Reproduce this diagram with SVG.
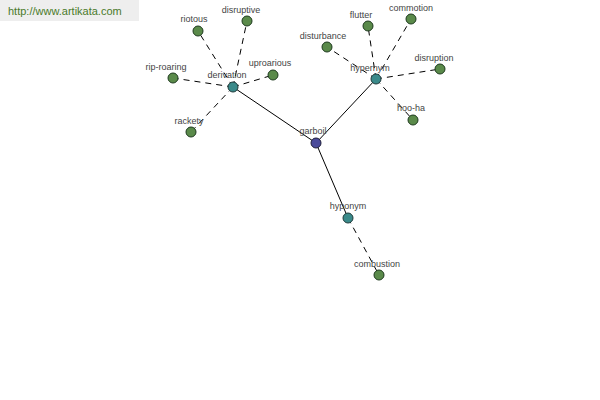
<svg xmlns="http://www.w3.org/2000/svg" width="600" height="400" viewBox="0 0 600 400">
<style>
.t{font-family:"Liberation Sans",Arial,sans-serif;font-size:9px;fill:#444;text-anchor:middle}
.l{fill:#5a8a4a;stroke:#1e3a1e;stroke-width:1}
.m{fill:#3a8a8a;stroke:#1e3a3a;stroke-width:1}
.d{stroke:#000;stroke-width:1;stroke-dasharray:6,5;fill:none}
.s{stroke:#000;stroke-width:1;fill:none}
</style>
<rect x="0" y="0" width="139" height="21" fill="#eeeeee"/>
<text x="8" y="15" style="font-family:'Liberation Sans',Arial,sans-serif;font-size:11px;fill:#4a7a2a">http://www.artikata.com</text>
<g id="connectors">
<line class="s" x1="316" y1="143" x2="233" y2="87"/>
<line class="s" x1="316" y1="143" x2="376" y2="79"/>
<line class="s" x1="316" y1="143" x2="348" y2="218"/>
<line class="d" x1="233" y1="87" x2="198" y2="31"/>
<line class="d" x1="233" y1="87" x2="247" y2="21"/>
<line class="d" x1="233" y1="87" x2="273" y2="75"/>
<line class="d" x1="233" y1="87" x2="173" y2="78"/>
<line class="d" x1="233" y1="87" x2="191" y2="132"/>
<line class="d" x1="376" y1="79" x2="327" y2="47"/>
<line class="d" x1="376" y1="79" x2="368" y2="26"/>
<line class="d" x1="376" y1="79" x2="411" y2="19"/>
<line class="d" x1="376" y1="79" x2="440" y2="69"/>
<line class="d" x1="376" y1="79" x2="413" y2="120"/>
<line class="d" x1="348" y1="218" x2="379" y2="275"/>
</g>
<g id="garboil"><circle cx="316" cy="143" r="5" fill="#4a4a9a" stroke="#1e1e3a"/><text class="t" x="313" y="134">garboil</text></g>
<g id="derivation"><circle class="m" cx="233" cy="87" r="5"/><text class="t" x="227" y="78">derivation</text></g>
<g id="hypernym"><circle class="m" cx="376" cy="79" r="5"/><text class="t" x="370" y="71">hypernym</text></g>
<g id="hyponym"><circle class="m" cx="348" cy="218" r="5"/><text class="t" x="348" y="209">hyponym</text></g>
<g id="riotous"><circle class="l" cx="198" cy="31" r="5"/><text class="t" x="194" y="22">riotous</text></g>
<g id="disruptive"><circle class="l" cx="247" cy="21" r="5"/><text class="t" x="241" y="13">disruptive</text></g>
<g id="uproarious"><circle class="l" cx="273" cy="75" r="5"/><text class="t" x="270" y="66">uproarious</text></g>
<g id="rip-roaring"><circle class="l" cx="173" cy="78" r="5"/><text class="t" x="166" y="70">rip-roaring</text></g>
<g id="rackety"><circle class="l" cx="191" cy="132" r="5"/><text class="t" x="189" y="124">rackety</text></g>
<g id="disturbance"><circle class="l" cx="327" cy="47" r="5"/><text class="t" x="323" y="39">disturbance</text></g>
<g id="flutter"><circle class="l" cx="368" cy="26" r="5"/><text class="t" x="361" y="18">flutter</text></g>
<g id="commotion"><circle class="l" cx="411" cy="19" r="5"/><text class="t" x="411" y="11">commotion</text></g>
<g id="disruption"><circle class="l" cx="440" cy="69" r="5"/><text class="t" x="434" y="61">disruption</text></g>
<g id="hoo-ha"><circle class="l" cx="413" cy="120" r="5"/><text class="t" x="411" y="111">hoo-ha</text></g>
<g id="combustion"><circle class="l" cx="379" cy="275" r="5"/><text class="t" x="377" y="267">combustion</text></g>
</svg>
